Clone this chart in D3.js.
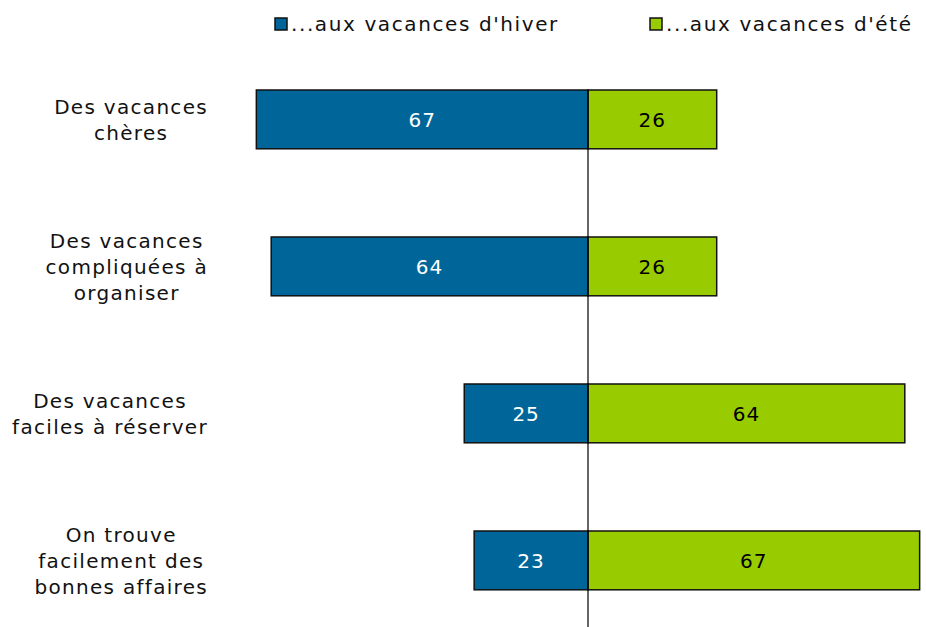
<!DOCTYPE html>
<html>
<head>
<meta charset="utf-8">
<script src="https://cdn.jsdelivr.net/npm/d3@7"></script>
<style>
  body { margin: 0; background: #fff; }
  svg { display: block; font-family: "DejaVu Sans", Verdana, sans-serif; }
</style>
</head>
<body>
<div id="container"></div>
<script>
// data
const categories = [
  ["Des vacances", "chères"],
  ["Des vacances", "compliquées à", "organiser"],
  ["Des vacances", "faciles à réserver"],
  ["On trouve", "facilement des", "bonnes affaires"]
];
const winter = [67, 64, 25, 23];
const summer = [26, 26, 64, 67];
const seriesNames = ["...aux vacances d'hiver", "...aux vacances d'été"];
const colors = ["#006699", "#99cc00"];

const width = 926, height = 627;
const cx = 588;
const labelRight = 208; // label blocks are centred, then pushed against this edge

const svg = d3.select("#container").append("svg")
  .attr("width", width)
  .attr("height", height);

const x = d3.scaleLinear().domain([-100, 100]).range([cx - 495, cx + 495]);
const y = d3.scaleBand()
  .domain(d3.range(categories.length))
  .range([16.5, 663.3])
  .paddingInner(0.6)
  .paddingOuter(0.5);

// bars
const rows = svg.append("g").selectAll("g")
  .data(categories.map((c, i) => ({ i, label: c, w: winter[i], s: summer[i] })))
  .join("g");

rows.append("rect")
  .attr("x", d => x(-d.w))
  .attr("y", d => y(d.i))
  .attr("width", d => x(0) - x(-d.w))
  .attr("height", y.bandwidth())
  .attr("fill", colors[0])
  .attr("stroke", "#111")
  .attr("stroke-width", 1.5);

rows.append("rect")
  .attr("x", x(0))
  .attr("y", d => y(d.i))
  .attr("width", d => x(d.s) - x(0))
  .attr("height", y.bandwidth())
  .attr("fill", colors[1])
  .attr("stroke", "#111")
  .attr("stroke-width", 1.5);

rows.append("text")
  .attr("x", d => (x(-d.w) + x(0)) / 2)
  .attr("y", d => y(d.i) + y.bandwidth() / 2)
  .attr("dy", "0.36em")
  .attr("text-anchor", "middle")
  .attr("fill", "#fff")
  .style("font-size", "20px")
  .style("letter-spacing", "1px")
  .text(d => d.w);

rows.append("text")
  .attr("x", d => (x(d.s) + x(0)) / 2)
  .attr("y", d => y(d.i) + y.bandwidth() / 2)
  .attr("dy", "0.36em")
  .attr("text-anchor", "middle")
  .attr("fill", "#000")
  .style("font-size", "20px")
  .style("letter-spacing", "1px")
  .text(d => d.s);

// category labels
rows.append("text")
  .attr("text-anchor", "middle")
  .attr("fill", "#111")
  .style("font-size", "20px")
  .style("letter-spacing", "1.3px")
  .each(function (d) {
    const n = d.label.length;
    const mid = y(d.i) + y.bandwidth() / 2;
    const spans = d3.select(this).selectAll("tspan")
      .data(d.label)
      .join("tspan")
      .attr("y", (t, k) => mid + (k - (n - 1) / 2) * 26)
      .attr("dy", "0.36em")
      .text(t => t);
    const maxW = d3.max(spans.nodes(), s => s.getComputedTextLength());
    spans.attr("x", labelRight - maxW / 2);
  });

// center line
svg.append("line")
  .attr("x1", x(0)).attr("x2", x(0))
  .attr("y1", y(0)).attr("y2", height)
  .attr("stroke", "#000")
  .attr("stroke-width", 1.2);

// legend
const legendX = [275, 650];
const legend = svg.append("g").selectAll("g")
  .data(seriesNames)
  .join("g")
  .attr("transform", (d, i) => `translate(${legendX[i]},18)`);

legend.append("rect")
  .attr("width", 12).attr("height", 12)
  .attr("fill", (d, i) => colors[i])
  .attr("stroke", "#111")
  .attr("stroke-width", 1.5);

legend.append("text")
  .attr("x", 16)
  .attr("y", 6)
  .attr("dy", "0.36em")
  .attr("fill", "#111")
  .style("font-size", "20px")
  .style("letter-spacing", "1.6px")
  .text(d => d);
</script>
</body>
</html>
